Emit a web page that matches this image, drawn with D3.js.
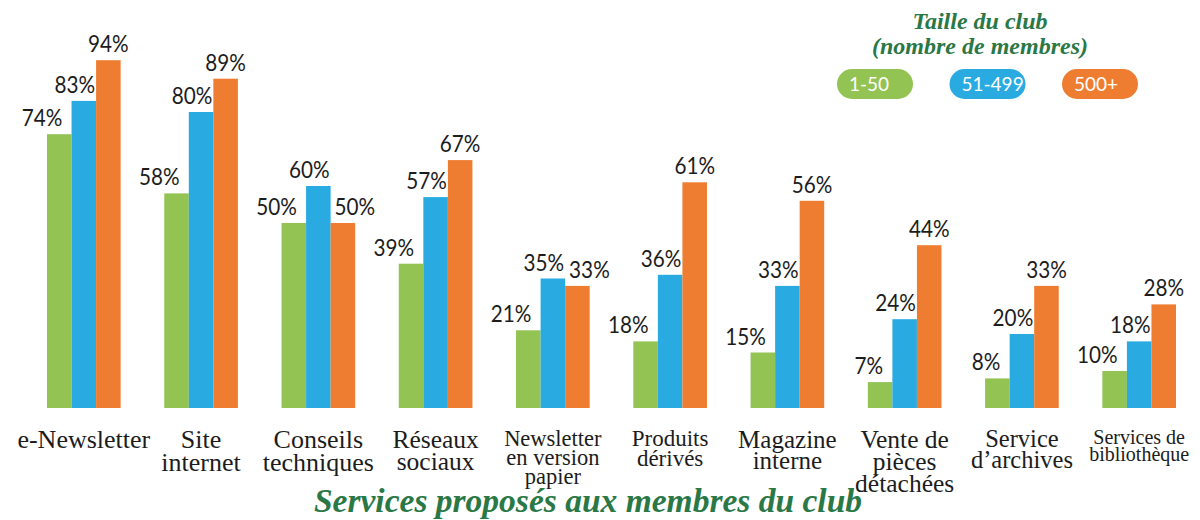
<!DOCTYPE html>
<html><head><meta charset="utf-8">
<script src="https://cdn.jsdelivr.net/npm/d3@7"></script>
<style>body{margin:0;background:#fff;} svg{display:block}</style>
</head><body>
<svg id="chart" width="1200" height="520"></svg>
<script>
// ---- data ----
const categories = [
  "e-Newsletter",
  "Site\ninternet",
  "Conseils\ntechniques",
  "Réseaux\nsociaux",
  "Newsletter\nen version\npapier",
  "Produits\ndérivés",
  "Magazine\ninterne",
  "Vente de\npièces\ndétachées",
  "Service\nd’archives",
  "Services de\nbibliothèque"
];
const seriesNames = ["1-50", "51-499", "500+"];
const values1to50   = [74, 58, 50, 39, 21, 18, 15, 7, 8, 10];
const values51to499 = [83, 80, 60, 57, 35, 36, 33, 24, 20, 18];
const values500plus = [94, 89, 50, 67, 33, 61, 56, 44, 33, 28];
const legendTitleLines = ["Taille du club", "(nombre de membres)"];
const axisTitle = "Services proposés aux membres du club";

// ---- styles ----
const colors = ["#92c353", "#29abe2", "#ef7d31"];
const titleGreen = "#2a7846";
const textDark = "#1c1c1c";
const labelSizes = [26, 26, 26, 25.5, 22.5, 23, 25, 25.5, 24.5, 20];

const seriesValues = [values1to50, values51to499, values500plus];
const rows = categories.map((c, i) => ({cat: c, i, vals: seriesValues.map(s => s[i])}));

const svg = d3.select("#chart");
const x0 = d3.scaleBand().domain(categories).range([47, 1176]).paddingInner(0.372).paddingOuter(0);
const x1 = d3.scaleBand().domain(seriesNames).range([0, x0.bandwidth()]).padding(0);
const y = d3.scaleLinear().domain([0, 100]).range([408, 38]);

// bars
const g = svg.append("g");
const groups = g.selectAll("g.grp").data(rows).join("g")
  .attr("class", "grp")
  .attr("transform", d => `translate(${x0(d.cat)},0)`);

groups.selectAll("rect").data(d => d.vals.map((v, k) => ({v, k, row: d}))).join("rect")
  .attr("x", d => x1(seriesNames[d.k]))
  .attr("y", d => y(d.v))
  .attr("width", x1.bandwidth())
  .attr("height", d => y(0) - y(d.v))
  .attr("fill", d => colors[d.k]);

// value labels
groups.selectAll("text.val").data(d => d.vals.map((v, k) => ({v, k, row: d}))).join("text")
  .attr("class", "val")
  .attr("transform", d => {
    const cx = x1(seriesNames[d.k]) + x1.bandwidth() / 2;
    let xx;
    if (d.k === 0) xx = cx + 3;
    else if (d.k === 1) xx = cx - 9;
    else xx = cx + (d.row.vals[1] > d.row.vals[2] || Math.abs(d.row.vals[1] - d.row.vals[2]) < 4 ? 12 : 0);
    return `translate(${xx},${y(d.v) - 8}) scale(0.9,1)`;
  })
  .attr("text-anchor", d => d.k === 0 ? "end" : "middle")
  .attr("font-family", "Lato, sans-serif")
  .attr("font-size", 23)
  .attr("fill", textDark)
  .text(d => d.v + "%");

// category labels
const catLabels = svg.append("g");
rows.forEach(r => {
  const fs = labelSizes[r.i];
  const lines = r.cat.split("\n");
  const cx = x0(r.cat) + x0.bandwidth() / 2;
  lines.forEach((ln, j) => {
    catLabels.append("text")
      .attr("x", cx)
      .attr("y", 430 + 0.7 * fs + j * 0.86 * fs)
      .attr("text-anchor", "middle")
      .attr("font-family", "'Liberation Serif', serif")
      .attr("font-size", fs)
      .attr("fill", textDark)
      .text(ln);
  });
});

// axis title
svg.append("text")
  .attr("x", 588).attr("y", 512)
  .attr("text-anchor", "middle")
  .attr("font-family", "'Liberation Serif', serif")
  .attr("font-weight", "bold").attr("font-style", "italic")
  .attr("font-size", 33.5)
  .attr("fill", titleGreen)
  .text(axisTitle);

// legend
const lg = svg.append("g");
legendTitleLines.forEach((ln, j) => {
  lg.append("text")
    .attr("x", 980).attr("y", 29 + j * 25)
    .attr("text-anchor", "middle")
    .attr("font-family", "'Liberation Serif', serif")
    .attr("font-weight", "bold").attr("font-style", "italic")
    .attr("font-size", 24)
    .attr("fill", titleGreen)
    .text(ln);
});
const lx = d3.scalePoint().domain(seriesNames).range([837, 1062]);
const items = lg.selectAll("g.item").data(seriesNames).join("g")
  .attr("class", "item")
  .attr("transform", d => `translate(${lx(d)},69)`);
items.append("rect")
  .attr("width", 76).attr("height", 30).attr("rx", 15).attr("ry", 15)
  .attr("fill", (d, k) => colors[k]);
items.append("text")
  .attr("x", 12).attr("y", 22)
  .attr("font-family", "Lato, sans-serif")
  .attr("font-size", 19)
  .attr("fill", "#fff")
  .text(d => d);
</script>
</body></html>
